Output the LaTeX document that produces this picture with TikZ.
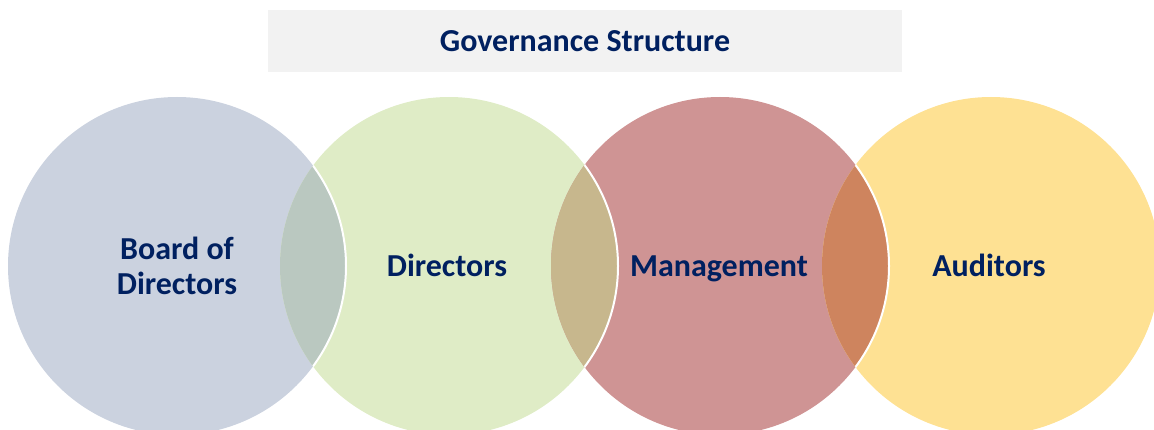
\documentclass[tikz,border=0pt]{standalone}
\usepackage{fontspec}
\setmainfont{Carlito}
\definecolor{navy}{HTML}{002060}
\definecolor{titlegray}{HTML}{F2F2F2}
\definecolor{boardfill}{HTML}{CBD2DF}
\definecolor{dirfill}{HTML}{DFECC6}
\definecolor{mgmtfill}{HTML}{CF9494}
\definecolor{audfill}{HTML}{FEE193}
\definecolor{lensA}{HTML}{BAC8C0}
\definecolor{lensB}{HTML}{C7B78D}
\definecolor{lensC}{HTML}{CE845E}
\begin{document}
\begin{tikzpicture}[x=1pt,y=-1pt,
    labeltext/.style={font=\bfseries\fontsize{32}{35}\selectfont, text=navy, align=center, inner sep=0pt},
    rim/.style={white, line width=2pt}]
    \useasboundingbox (0,0) rectangle (1154,430);
    % title bar
    \fill[titlegray] (268,10) rectangle (902,72);
    \node[labeltext, anchor=base] (title) at (585,52) {Governance Structure};
    % circle centres
    \coordinate (board) at (177,266);
    \coordinate (dir) at (449,266);
    \coordinate (mgmt) at (720,266);
    \coordinate (aud) at (991,266);
    \fill[boardfill] (board) circle (169pt);
    \fill[dirfill] (dir) circle (169pt);
    \fill[mgmtfill] (mgmt) circle (169pt);
    \fill[audfill] (aud) circle (169pt);
    % overlaps
    \begin{scope}
        \clip (board) circle (169pt);
        \fill[lensA] (dir) circle (169pt);
    \end{scope}
    \begin{scope}
        \clip (dir) circle (169pt);
        \fill[lensB] (mgmt) circle (169pt);
    \end{scope}
    \begin{scope}
        \clip (mgmt) circle (169pt);
        \fill[lensC] (aud) circle (169pt);
    \end{scope}
    % white rims across the overlaps
    \begin{scope}
        \clip (dir) circle (169pt);
        \draw[rim] (board) circle (169pt);
    \end{scope}
    \begin{scope}
        \clip (mgmt) circle (169pt);
        \draw[rim] (dir) circle (169pt);
    \end{scope}
    \begin{scope}
        \clip (aud) circle (169pt);
        \draw[rim] (mgmt) circle (169pt);
    \end{scope}
    % labels
    \node[labeltext] (boardlabel) at (177,266) {Board of\\Directors};
    \node[labeltext, anchor=base] (dirlabel) at (447,277) {Directors};
    \node[labeltext, anchor=base] (mgmtlabel) at (719,277) {Management};
    \node[labeltext, anchor=base] (audlabel) at (989,277) {Auditors};
\end{tikzpicture}
\end{document}
